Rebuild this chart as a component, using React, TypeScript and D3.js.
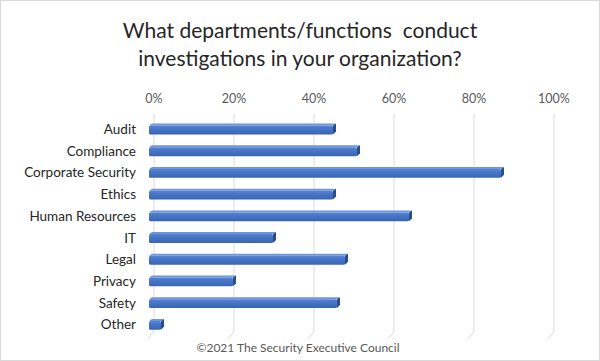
import React from "react";
import * as d3 from "d3";

const categories = ["Audit", "Compliance", "Corporate Security", "Ethics", "Human Resources", "IT", "Legal", "Privacy", "Safety", "Other"];
const values = [46, 52, 88, 46, 65, 31, 49, 21, 47, 3];
const ticks = [0, 20, 40, 60, 80, 100];
const titleLines = ["What departments/functions  conduct", "investigations in your organization?"];
const footer = "©2021 The Security Executive Council";

const W = 600, H = 361;
const DX = 6.3, DY = 6.3; // floor depth
const FONT = "Lato, 'Open Sans', sans-serif";

export default function App() {
  // back wall scale
  const xBack = d3.scaleLinear().domain([0, 100]).range([154, 554]);
  const y = d3.scaleBand<string>().domain(categories).range([118.15, 335.15]).paddingInner(0.5).paddingOuter(0.25);
  const bw = y.bandwidth();
  const wallTop = 113.5, wallBottom = 332;
  const fOff = -5, bDepth = 3;

  return (
    <div style={{ position: "absolute", left: 0, top: 0 }}>
      <svg width={W} height={H} style={{ display: "block", background: "#fff" }}>
        <defs>
          <linearGradient id="face" x1="0" x2="0" y1="0" y2="1">
            <stop offset="0" stopColor="#5682d0" />
            <stop offset="0.5" stopColor="#4472c4" />
            <stop offset="1" stopColor="#3a64b0" />
          </linearGradient>
        </defs>
        <rect x={0.5} y={0.5} width={W - 1} height={H - 1} fill="#fff" stroke="#d9d9d9" />
        {titleLines.map((t, i) => (
          <text key={i} x={300} y={38 + i * 28} textAnchor="middle" fontFamily={FONT} fontSize={21} fill="#262626" xmlSpace="preserve">{t}</text>
        ))}
        {ticks.map((t) => (
          <g key={t}>
            <text x={xBack(t)} y={103} textAnchor="middle" fontFamily={FONT} fontSize={12.5} fill="#595959">{t}%</text>
            <line x1={xBack(t)} x2={xBack(t)} y1={wallTop} y2={wallBottom} stroke="#d9d9d9" strokeWidth={1} />
            <line x1={xBack(t)} x2={xBack(t) - DX} y1={wallBottom} y2={wallBottom + DY} stroke="#d9d9d9" strokeWidth={1} />
          </g>
        ))}
        {categories.map((c, i) => {
          const v = values[i];
          const top = y(c)!;
          const x0 = xBack(0) + fOff;
          const x1 = xBack(v) + fOff;
          const topH = 2;
          return (
            <g key={c}>
              <path d={`M${x0},${top + topH} L${x0 + bDepth},${top} L${x1 + bDepth},${top} L${x1},${top + topH} Z`} fill="#6e96dc" />
              <rect x={x0} y={top + topH} width={x1 - x0} height={bw - topH} fill="url(#face)" rx={1.5} />
              <path d={`M${x1},${top + topH} L${x1 + bDepth},${top} L${x1 + bDepth},${top + bw - topH - 1} L${x1},${top + bw} Z`} fill="#2a4d8c" />
              <text x={136} y={top + bw / 2 + 5} textAnchor="end" fontFamily={FONT} fontSize={13.5} fill="#262626">{c}</text>
            </g>
          );
        })}
        <text x={298} y={352} textAnchor="middle" fontFamily={FONT} fontSize={12} fill="#595959">{footer}</text>
      </svg>
    </div>
  );
}
